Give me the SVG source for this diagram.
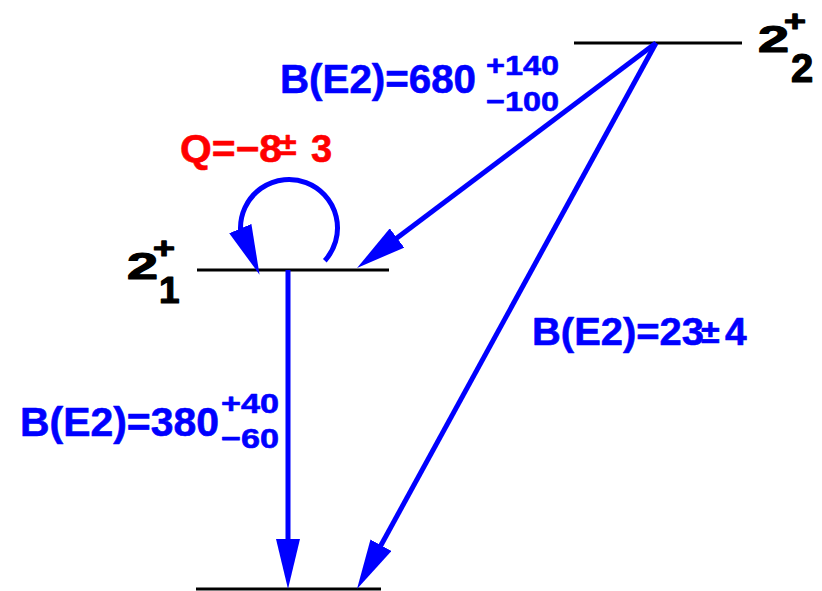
<svg xmlns="http://www.w3.org/2000/svg" width="822" height="591" viewBox="0 0 822 591">
<style>
.lvl{stroke:#000;stroke-width:3;fill:none}
.arr{stroke:#0000ff;stroke-width:5;fill:none;marker-end:url(#ah)}
.t{font-family:"Liberation Sans",Arial,sans-serif;font-weight:bold;stroke-width:0.6;stroke-linejoin:round}
.b{fill:#0000ff;stroke:#0000ff}
.r{fill:#ff0000;stroke:#ff0000}
.k{fill:#000;stroke:#000;stroke-width:1.2}
</style>
<defs>
<marker id="ah" markerUnits="userSpaceOnUse" viewBox="0 0 50 24" markerWidth="50" markerHeight="24" refX="20" refY="12" orient="auto">
<path d="M0,0 L50,12 L0,24 z" fill="#0000ff"/>
</marker>
</defs>
<rect width="822" height="591" fill="#fff"/>
<g id="level-2-2">
<path class="lvl" d="M574,43 H742"/>
<text class="t k" x="758" y="52" font-size="37" textLength="31" lengthAdjust="spacingAndGlyphs">2</text>
<text class="t k" x="784" y="31" font-size="30" textLength="22" lengthAdjust="spacingAndGlyphs">+</text>
<text class="t k" x="791" y="82" font-size="40">2</text>
</g>
<g id="level-2-1">
<path class="lvl" d="M197,270 H389"/>
<text class="t k" x="127" y="279" font-size="37" textLength="31" lengthAdjust="spacingAndGlyphs">2</text>
<text class="t k" x="153" y="258" font-size="30" textLength="22" lengthAdjust="spacingAndGlyphs">+</text>
<text class="t k" x="159" y="303" font-size="37">1</text>
</g>
<g id="level-0">
<path class="lvl" d="M196,589 H381"/>
</g>
<g id="connectors">
<path class="arr" d="M656,43 L381,250"/>
<path class="arr" d="M656,43 L371.4,562.7"/>
<path class="arr" d="M288,270 L288,559"/>
<path class="arr" d="M324.8,260.7 A48.5,48.5 0 1 0 240.5,229 L248,247"/>
</g>
<g id="label-680">
<text class="t b" x="280" y="93" font-size="40" textLength="196" lengthAdjust="spacingAndGlyphs">B(E2)=680</text>
<text class="t b" x="486" y="75" font-size="28" textLength="73" lengthAdjust="spacingAndGlyphs">+140</text>
<text class="t b" x="486" y="111" font-size="28" textLength="73" lengthAdjust="spacingAndGlyphs">−100</text>
</g>
<g id="label-Q">
<text class="t r" x="180" y="162" font-size="38" textLength="102" lengthAdjust="spacingAndGlyphs">Q=−8</text>
<text class="t r" x="279" y="155" font-size="32">±</text>
<text class="t r" x="311" y="162" font-size="38">3</text>
</g>
<g id="label-23">
<text class="t b" x="532" y="345" font-size="39" textLength="172" lengthAdjust="spacingAndGlyphs">B(E2)=23</text>
<text class="t b" x="701" y="343" font-size="34">±</text>
<text class="t b" x="725" y="345" font-size="39">4</text>
</g>
<g id="label-380">
<text class="t b" x="20" y="436" font-size="40" textLength="199" lengthAdjust="spacingAndGlyphs">B(E2)=380</text>
<text class="t b" x="221" y="413" font-size="28" textLength="58" lengthAdjust="spacingAndGlyphs">+40</text>
<text class="t b" x="221" y="448" font-size="28" textLength="58" lengthAdjust="spacingAndGlyphs">−60</text>
</g>
</svg>
